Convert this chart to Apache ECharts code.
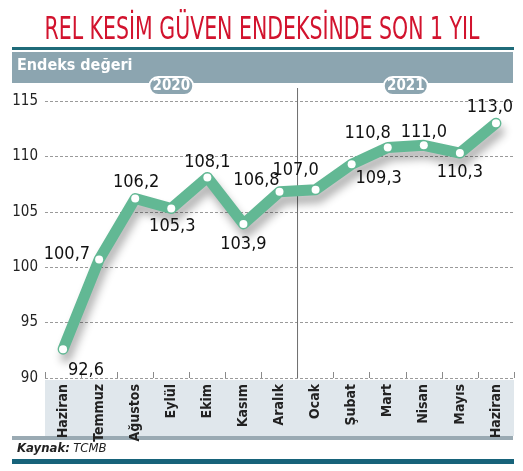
<!DOCTYPE html>
<html><head><meta charset="utf-8">
<script src="https://cdn.jsdelivr.net/npm/echarts@6/dist/echarts.min.js"></script>
<style>html,body{margin:0;padding:0;background:#fff}#c{width:523px;height:471px}</style>
</head><body><div id="c"></div>
<script>
// ---- data ----
const months = ['Haziran','Temmuz','Ağustos','Eylül','Ekim','Kasım','Aralık','Ocak','Şubat','Mart','Nisan','Mayıs','Haziran'];
const values = [92.6,100.7,106.2,105.3,108.1,103.9,106.8,107.0,109.3,110.8,111.0,110.3,113.0];
const yTicks = [90,95,100,105,110,115];
const yearLabels = ['2020','2021'];
const yearStartIdx = [0,7];
const yearEndIdx = [6,12];
const titleText = 'REL KESİM GÜVEN ENDEKSİNDE SON 1 YIL';
const subtitleText = 'Endeks değeri';
const sourceLabel = 'Kaynak:';
const sourceText = 'TCMB';

// ---- style ----
const FONT = '"Liberation Sans Narrow","DejaVu Sans Condensed","Open Sans",sans-serif';
const labelPlace = [
  ['bottom',[23,3.5]],['left',[0,-5]],['top',[1,1.5]],['bottom',[1,0]],['top',[0,2.5]],
  ['bottom',[0,2.5]],['top',[-23,6.5]],['top',[-20,-1.5]],['bottom',[27,-3.5]],
  ['top',[-20,3.5]],['top',[0,5.5]],['bottom',[0,1.5]],['top',[-6,2.5]]
];

function measure(text, font){
  const c = document.createElement('canvas').getContext('2d');
  c.font = font; return c.measureText(text).width;
}
const titleFont = 'normal 32px ' + FONT;
const titleScale = 435 / measure(titleText, titleFont);

const chart = echarts.init(document.getElementById('c'), null, {renderer:'canvas'});
const seriesData = values.map((v,i)=>({
  value: v,
  label: {position: labelPlace[i][0], offset: labelPlace[i][1]}
}));

const option = {
  animation: false,
  backgroundColor: '#fff',
  grid: {left:45, right:9, top:101, bottom:93},
  xAxis: {
    type:'category', data: months, boundaryGap: true,
    axisLine:{show:false},
    axisTick:{show:true, inside:true, length:6, interval:0, lineStyle:{color:'#8a8a8a'}},
    axisLabel:{rotate:90, interval:0, margin:6, fontFamily:FONT, fontWeight:'bold', fontSize:14, color:'#222',
      align:'right', verticalAlign:'middle'}
  },
  yAxis: {
    type:'value', min: yTicks[0], max: yTicks[yTicks.length-1], interval: 5,
    axisLine:{show:false}, axisTick:{show:false},
    axisLabel:{margin:7, fontFamily:FONT, fontSize:15, color:'#222'},
    splitLine:{lineStyle:{color:'#9a9a9a', type:[3,2], width:1}}
  },
  series: [{
    type:'line', data: seriesData, smooth:false,
    symbol:'circle', symbolSize:8,
    itemStyle:{color:'#fff', borderWidth:0},
    lineStyle:{color:'#62b894', width:11, join:'round', cap:'round',
      shadowColor:'rgba(0,0,0,0.3)', shadowBlur:9, shadowOffsetX:3, shadowOffsetY:8},
    label:{show:true, fontFamily:FONT, fontSize:18, color:'#111', distance:5,
      formatter: p => p.value.toFixed(1).replace('.', ',')},
    z: 3
  }]
};
chart.setOption(option);

// decorations, positioned from the axes
const xy = (i,v)=>chart.convertToPixel({gridIndex:0}, [i,v]);
const sepX = (xy(6,90)[0] + xy(7,90)[0]) / 2;
const yBottom = xy(0, yTicks[0])[1];
const gLeft = xy(0,90)[0] - (xy(1,90)[0]-xy(0,90)[0])/2;
const gRight = xy(12,90)[0] + (xy(1,90)[0]-xy(0,90)[0])/2;

const elements = [
  {type:'text', x:262, y:31, scaleX:titleScale, originX:0, originY:0,
   style:{text:titleText, font:titleFont, fill:'#d2132e', align:'center', verticalAlign:'middle'}},
  {type:'rect', shape:{x:12,y:47,width:502,height:3}, style:{fill:'#1f6b79'}, z:-5},
  {type:'rect', shape:{x:12,y:52,width:501,height:31}, style:{fill:'#8ca5b0'}, z:-5},
  {type:'text', x:17, y:66, style:{text:subtitleText, font:'bold 16px '+FONT, fill:'#fff', verticalAlign:'middle'}},
  {type:'rect', shape:{x:gLeft,y:yBottom+2,width:gRight-gLeft,height:436-yBottom-2}, style:{fill:'#e0e7ec'}, z:-10},
  {type:'rect', shape:{x:12,y:436,width:501,height:4}, style:{fill:'#9aaab3'}, z:-5},
  {type:'text', x:17, y:449, style:{
    text:'{b|'+sourceLabel+'} {n|'+sourceText+'}', verticalAlign:'middle',
    rich:{b:{font:'italic bold 13px '+FONT, fill:'#222'}, n:{font:'italic 13px '+FONT, fill:'#222'}}}},
  {type:'rect', shape:{x:12,y:459,width:502,height:5}, style:{fill:'#17637a'}, z:-5},
  {type:'line', shape:{x1:sepX, y1:88, x2:sepX, y2:yBottom}, style:{stroke:'#6e6e6e', lineWidth:1}, z:1}
];
yearLabels.forEach((lab,k)=>{
  const cx = (xy(yearStartIdx[k],90)[0] + xy(yearEndIdx[k],90)[0]) / 2;
  elements.push({type:'rect', shape:{x:cx-22,y:77,width:44,height:18,r:9},
    style:{fill:'#8ca5b0', stroke:'#fff', lineWidth:2}, z:5});
  elements.push({type:'text', x:cx, y:86, z:6,
    style:{text:lab, font:'bold 15px '+FONT, fill:'#fff', align:'center', verticalAlign:'middle'}});
});
chart.setOption({graphic:{elements}});
</script></body></html>
